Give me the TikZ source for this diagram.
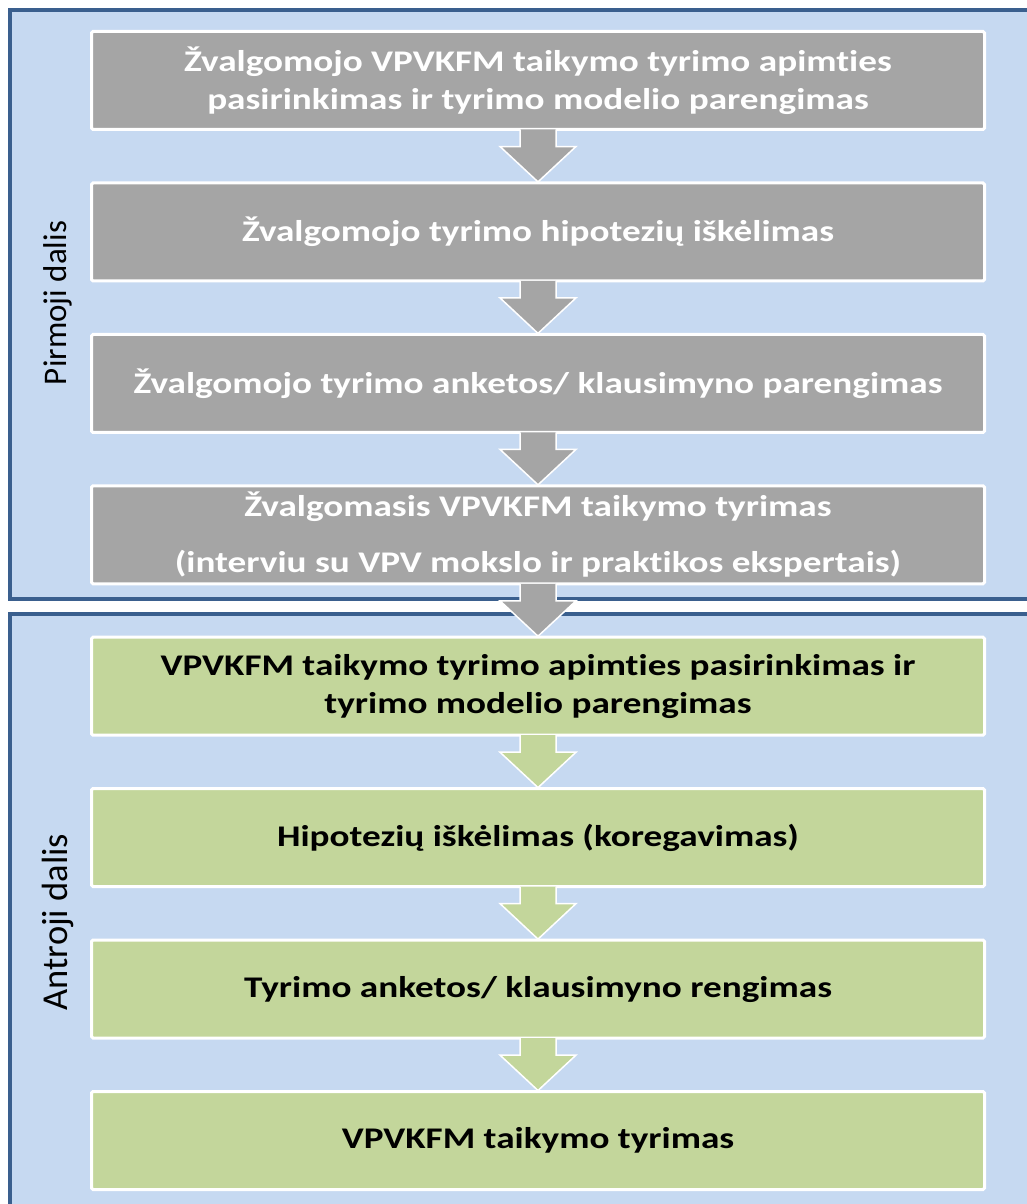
\documentclass[tikz,border=0pt]{standalone}
\usepackage{fontspec}
\setmainfont{Carlito}
\newfontfamily\boxfont[FakeStretch=1.24,Ligatures=NoCommon]{Carlito}
\usetikzlibrary{calc}
\definecolor{panelfill}{HTML}{C6D9F1}
\definecolor{panelline}{HTML}{3A5F8E}
\definecolor{graybox}{HTML}{A5A5A5}
\definecolor{greenbox}{HTML}{C3D69B}
\begin{document}
\begin{tikzpicture}[x=1pt,y=-1pt,
 panel/.style={fill=panelfill,draw=panelline,line width=3.5pt},
 stage/.style={draw=white,line width=3pt,rounded corners=1.5pt,minimum width=893pt,minimum height=98pt,inner sep=0pt,align=center,font=\boxfont\bfseries\fontsize{30}{38}\selectfont},
 graystage/.style={stage,fill=graybox,text=white},
 greenstage/.style={stage,fill=greenbox,text=black},
 flow/.style={draw=white,line width=1.5pt,line join=miter},
 partlabel/.style={rotate=90,inner sep=0pt,text=black}]
\useasboundingbox (0,0) rectangle (1027,1204);
\path[panel] (10,10) rectangle (1045,599);
\path[panel] (10,614) rectangle (1045,1220);
\node[partlabel,font=\fontsize{33}{40}\selectfont] (p1) at (58,303) {Pirmoji dalis};
\node[partlabel,font=\fontsize{36.5}{44}\selectfont] (p2) at (58,922) {Antroji dalis};
\node[graystage] (s1) at (538,80.5) {Žvalgomojo VPVKFM taikymo tyrimo apimties\\pasirinkimas ir tyrimo modelio parengimas};
\node[graystage] (s2) at (538,231.9) {Žvalgomojo tyrimo hipotezių iškėlimas};
\node[graystage] (s3) at (538,383.4) {Žvalgomojo tyrimo anketos/ klausimyno parengimas};
\node[graystage] (s4) at (538,534.8) {Žvalgomasis VPVKFM taikymo tyrimas\\[18pt](interviu su VPV mokslo ir praktikos ekspertais)};
\node[greenstage] (s5) at (538,686.2) {VPVKFM taikymo tyrimo apimties pasirinkimas ir\\tyrimo modelio parengimas};
\node[greenstage] (s6) at (538,837.6) {Hipotezių iškėlimas (koregavimas)};
\node[greenstage] (s7) at (538,989.1) {Tyrimo anketos/ klausimyno rengimas};
\node[greenstage] (s8) at (538,1140.5) {VPVKFM taikymo tyrimas};
\foreach \a/\b/\c in {s1/s2/graybox,s2/s3/graybox,s3/s4/graybox,s4/s5/graybox,s5/s6/greenbox,s6/s7/greenbox,s7/s8/greenbox}{
 \draw[flow,fill=\c] ($(\a.south)+(-18,-1.5)$) -- ($(\a.south)+(-18,15.5)$) -- ($(\a.south)+(-38,15.5)$) -- ($(\b.north)+(0,0.5)$) -- ($(\a.south)+(38,15.5)$) -- ($(\a.south)+(18,15.5)$) -- ($(\a.south)+(18,-1.5)$);
}
\end{tikzpicture}
\end{document}
